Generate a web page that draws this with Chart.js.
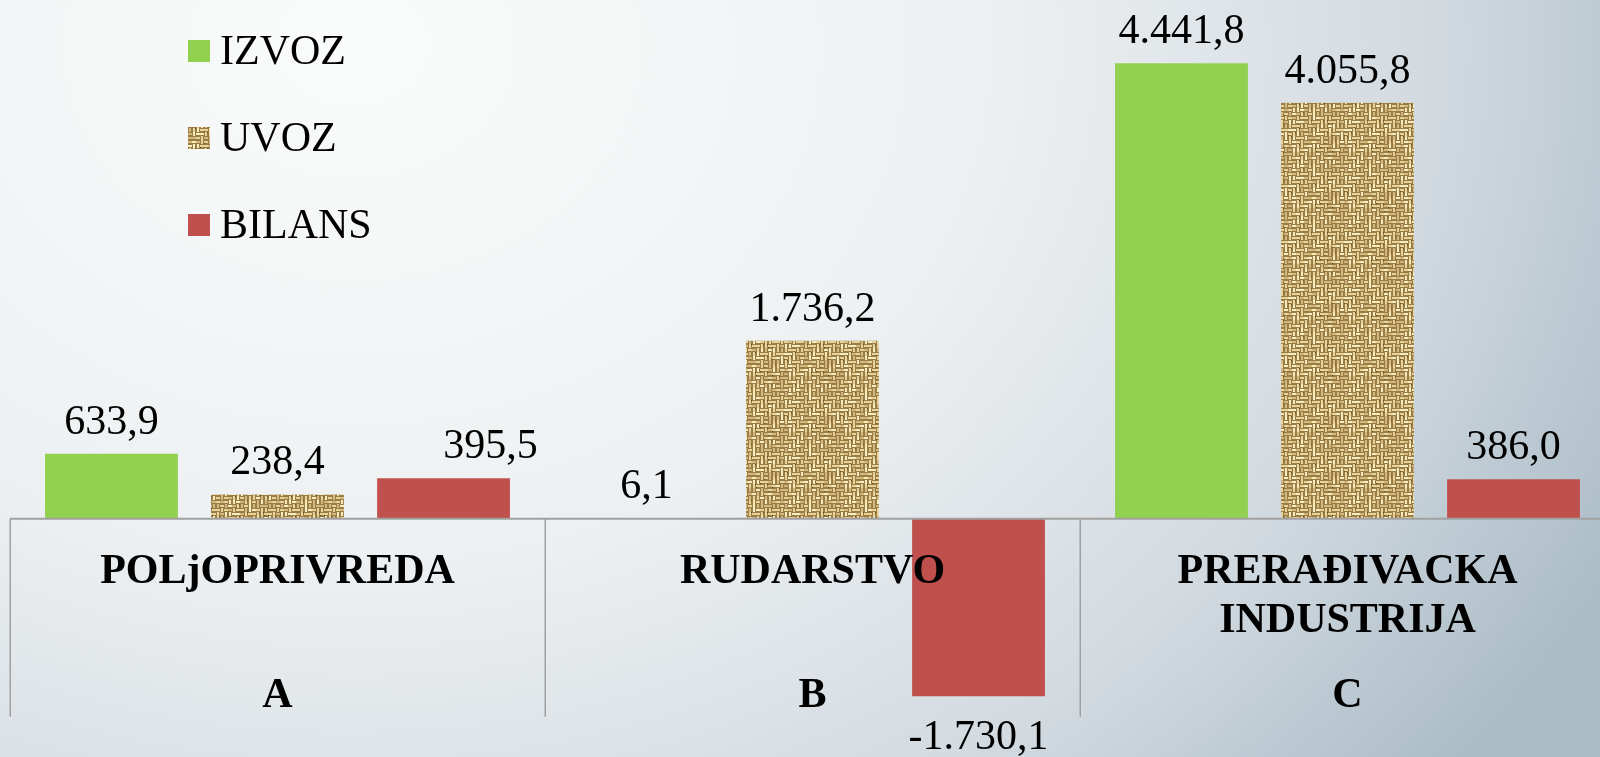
<!DOCTYPE html>
<html>
<head>
<meta charset="utf-8">
<script src="https://cdn.jsdelivr.net/npm/chart.js@4.4.1/dist/chart.umd.min.js"></script>
<style>
  html, body { margin: 0; padding: 0; overflow: hidden; }
  body {
    width: 1600px; height: 757px;
    background: radial-gradient(ellipse 1420px 1150px at 22% 6%, #fafbfb 0%, #edf0f2 45%, #d2dae0 76%, #abbcc7 100%);
  }
  #wrap { position: absolute; left: 0; top: 0; width: 1620px; height: 757px; }
</style>
</head>
<body>
<div id="wrap"><canvas id="chart" width="1620" height="757"></canvas></div>
<script>
// --- data ---
const categories = [["POLjOPRIVREDA"], ["RUDARSTVO"], ["PRERAĐIVACKA", "INDUSTRIJA"]];
const sectionCodes = ["A", "B", "C"];
const seriesNames = ["IZVOZ", "UVOZ", "BILANS"];
const izvoz = [633.9, 6.1, 4441.8];
const uvoz = [238.4, 1736.2, 4055.8];
const bilans = [395.5, -1730.1, 386.0];

// label nudges (the 395,5 label sits to the right of its bar in the original)
const labelDx = [[0, 0, 0], [0, 0, 0], [47, 0, 0]];

const serif = '"Liberation Serif", "Times New Roman", serif';

// burlap-like texture for UVOZ
function makeBurlap() {
  const n = 14, cell = 4, size = n * cell;
  const c = document.createElement('canvas');
  c.width = size; c.height = size;
  const g = c.getContext('2d');
  g.fillStyle = '#9a7c47';
  g.fillRect(0, 0, size, size);
  const hash = (a, b) => { const s = Math.sin(a * 127.1 + b * 311.7) * 43758.5453; return s - Math.floor(s); };
  for (let r = 0; r < n; r++) {
    for (let col = 0; col < n; col++) {
      const x = col * cell, y = r * cell;
      const h = hash(r, col);
      let horiz = (col + r) % 4 < 2;
      if (h < 0.18) horiz = !horiz;
      g.fillStyle = h > 0.75 ? '#f8ebbd' : (h < 0.3 ? '#d2b87c' : '#e8d499');
      if (horiz) g.fillRect(x, y + 1, cell, 2);
      else g.fillRect(x + 1, y, 2, cell);
      if (h > 0.45 && h < 0.6) {
        g.fillStyle = '#5e4526';
        g.fillRect(x + (horiz ? 0 : 3), y + (horiz ? 3 : 0), 1, 1);
      }
    }
  }
  return g.createPattern(c, 'repeat');
}
const burlap = makeBurlap();

function fmt(v) {
  const p = Math.abs(v).toFixed(1).split('.');
  return (v < 0 ? '-' : '') + p[0].replace(/\B(?=(\d{3})+(?!\d))/g, '.') + ',' + p[1];
}

const overlay = {
  id: 'overlay',
  afterDatasetsDraw(chart) {
    const ctx = chart.ctx;
    const xs = chart.scales.x, ys = chart.scales.y;
    const y0 = ys.getPixelForValue(0);
    const catW = (xs.right - xs.left) / categories.length;
    ctx.save();

    // axis line + category dividers
    ctx.strokeStyle = '#a0a0a0';
    ctx.lineWidth = 2;
    ctx.beginPath();
    ctx.moveTo(xs.left, y0); ctx.lineTo(xs.right, y0);
    ctx.stroke();
    ctx.lineWidth = 1.5;
    for (let i = 0; i <= categories.length; i++) {
      const x = Math.round(xs.left + i * catW) + 0.25;
      ctx.beginPath();
      ctx.moveTo(x, y0); ctx.lineTo(x, y0 + 198);
      ctx.stroke();
    }

    // category labels
    ctx.fillStyle = '#000';
    ctx.textAlign = 'center';
    ctx.textBaseline = 'alphabetic';
    ctx.font = 'bold 42px ' + serif;
    categories.forEach((lines, i) => {
      const x = xs.getPixelForValue(i);
      lines.forEach((t, k) => ctx.fillText(t, x, y0 + 64 + k * 49));
      ctx.fillText(sectionCodes[i], x, y0 + 188);
    });

    // value labels
    ctx.font = '42px ' + serif;
    chart.data.datasets.forEach((ds, di) => {
      const meta = chart.getDatasetMeta(di);
      meta.data.forEach((bar, i) => {
        const v = ds.data[i];
        const x = bar.x + labelDx[di][i];
        const y = v >= 0 ? bar.y - 20 : bar.y + 53;
        ctx.fillText(fmt(v), x, y);
      });
    });

    // legend
    ctx.textAlign = 'left';
    chart.data.datasets.forEach((ds, di) => {
      const top = 40 + di * 87;
      ctx.fillStyle = ds.backgroundColor;
      ctx.fillRect(188, top, 22, 22);
      ctx.fillStyle = '#000';
      ctx.fillText(ds.label, 220, top + 24);
    });
    ctx.restore();
  }
};

new Chart(document.getElementById('chart'), {
  type: 'bar',
  data: {
    labels: categories.map(c => c.join(' ')),
    datasets: [
      { label: seriesNames[0], data: izvoz, backgroundColor: '#92d050' },
      { label: seriesNames[1], data: uvoz, backgroundColor: burlap },
      { label: seriesNames[2], data: bilans, backgroundColor: '#c0504d' }
    ]
  },
  options: {
    responsive: false,
    animation: false,
    layout: { padding: { left: 10, right: 5, top: 6, bottom: 33 } },
    datasets: { bar: { categoryPercentage: 0.931, barPercentage: 0.8, borderWidth: 0 } },
    plugins: { legend: { display: false }, tooltip: { enabled: false } },
    scales: {
      x: { display: false },
      y: { display: false, min: -2000, max: 5000 }
    }
  },
  plugins: [overlay]
});
</script>
</body>
</html>
